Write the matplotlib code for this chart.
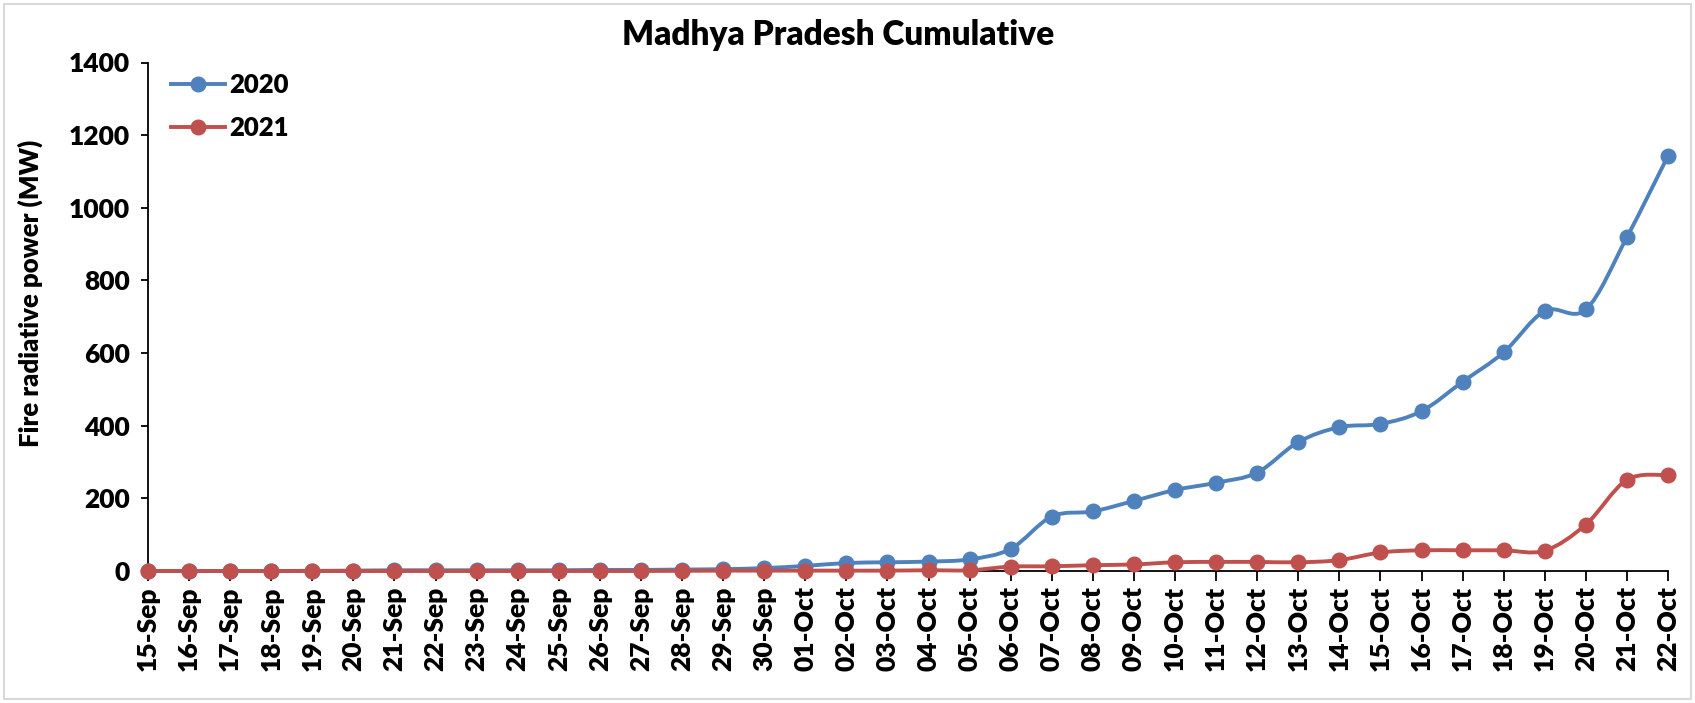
import matplotlib
matplotlib.use("Agg")
import matplotlib.pyplot as plt
from matplotlib.path import Path
from matplotlib.patches import PathPatch, Rectangle
from matplotlib.lines import Line2D

dates = ["15-Sep", "16-Sep", "17-Sep", "18-Sep", "19-Sep", "20-Sep", "21-Sep", "22-Sep",
         "23-Sep", "24-Sep", "25-Sep", "26-Sep", "27-Sep", "28-Sep", "29-Sep", "30-Sep",
         "01-Oct", "02-Oct", "03-Oct", "04-Oct", "05-Oct", "06-Oct", "07-Oct", "08-Oct",
         "09-Oct", "10-Oct", "11-Oct", "12-Oct", "13-Oct", "14-Oct", "15-Oct", "16-Oct",
         "17-Oct", "18-Oct", "19-Oct", "20-Oct", "21-Oct", "22-Oct"]
fire_2020 = [0, 0, 0, 0, 0.5, 1, 2, 2, 2, 2, 2, 3, 3, 4, 5, 8,
             14, 22, 24, 26, 32, 61, 150, 164, 193, 223, 243, 271, 355, 396,
             405, 440, 521, 602, 716, 720, 919, 1143]
fire_2021 = [0, 0, 0, 0, 0, 0, 0, 0, 0, 0, 0, 0, 0, 0.5, 1, 1,
             1, 1, 1, 2, 2, 12, 13, 16, 18, 24, 25, 25, 24, 30,
             51, 57, 57, 57, 56, 128, 251, 264]

series = [("2020", fire_2020, "#4F81BD"), ("2021", fire_2021, "#C0504D")]

W, H = 1695, 703
fig = plt.figure(figsize=(W / 100, H / 100), dpi=100)
fig.patches.append(Rectangle((4 / W, 4 / H), 1 - 8 / W, 1 - 8 / H, transform=fig.transFigure,
                             fill=False, edgecolor="#D9D9D9", linewidth=1.5))
ax = fig.add_axes([148 / W, 1 - 571 / H, (1668 - 148) / W, (571 - 62.5) / H])

FONT = "Lato"
WEIGHT = "heavy"


def smooth_path(xs, ys):
    verts = [(xs[0], ys[0])]
    codes = [Path.MOVETO]
    n = len(xs)
    for i in range(n - 1):
        p0 = (xs[max(i - 1, 0)], ys[max(i - 1, 0)])
        p1 = (xs[i], ys[i])
        p2 = (xs[i + 1], ys[i + 1])
        p3 = (xs[min(i + 2, n - 1)], ys[min(i + 2, n - 1)])
        c1 = (p1[0] + (p2[0] - p0[0]) / 6, p1[1] + (p2[1] - p0[1]) / 6)
        c2 = (p2[0] - (p3[0] - p1[0]) / 6, p2[1] - (p3[1] - p1[1]) / 6)
        verts += [c1, c2, p2]
        codes += [Path.CURVE4] * 3
    return Path(verts, codes)


xs = list(range(len(dates)))
handles = []
for name, vals, col in series:
    patch = PathPatch(smooth_path(xs, vals), facecolor="none", edgecolor=col, linewidth=2.8,
                      clip_on=False, zorder=3)
    ax.add_patch(patch)
    ax.plot(xs, vals, linestyle="none", marker="o", markersize=10.5, color=col,
            clip_on=False, zorder=4)
    handles.append(Line2D([], [], color=col, linewidth=2.8, marker="o", markersize=10.5))

ax.set_xlim(0, len(dates) - 1)
ax.set_ylim(0, 1400)
ax.set_yticks(range(0, 1401, 200))
ax.set_xticks(xs)
ax.set_xticklabels(dates, rotation=90, fontsize=19, fontweight=WEIGHT, family=FONT)
for lab in ax.get_yticklabels():
    lab.set_fontsize(19)
    lab.set_fontweight(WEIGHT)
    lab.set_family(FONT)

for s in ["top", "right"]:
    ax.spines[s].set_visible(False)
for s in ["left", "bottom"]:
    ax.spines[s].set_color("black")
    ax.spines[s].set_linewidth(1.3)
ax.tick_params(axis="x", direction="out", length=7, width=1.3, pad=4)
ax.tick_params(axis="y", direction="out", length=5, width=1.3, pad=8)

ax.set_ylabel("Fire radiative power (MW)", fontsize=18.5, fontweight=WEIGHT, family=FONT)
ax.yaxis.set_label_coords(-0.069, 0.545)
fig.text(838 / W, 1 - 35 / H, "Madhya Pradesh Cumulative", ha="center", va="center",
         fontsize=24, fontweight=WEIGHT, family=FONT)

leg = ax.legend(handles, [s[0] for s in series], loc="upper left", bbox_to_anchor=(0.0, 1.025),
                frameon=False, prop={"family": FONT, "weight": WEIGHT, "size": 18.5},
                handlelength=2.1, labelspacing=0.75, handletextpad=0.15)

fig.savefig("out.png", dpi=100)
